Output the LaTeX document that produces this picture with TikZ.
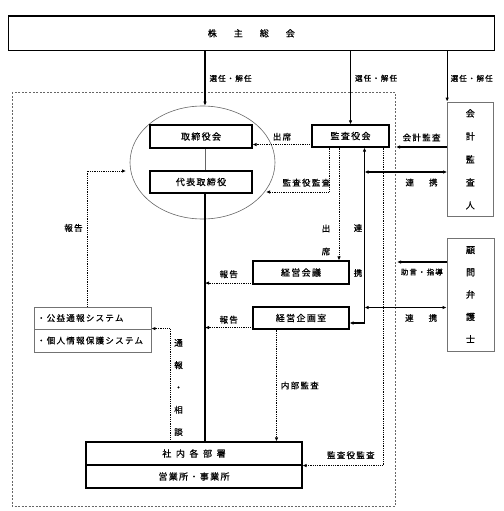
\documentclass[tikz,border=0pt]{standalone}
\usepackage{fontspec}
\newfontfamily\jp{Noto Sans CJK JP}[LetterSpace=15, FakeBold=0.6]
\usetikzlibrary{arrows.meta}
\usetikzlibrary{shapes.geometric}
\tikzset{box/.style={draw, line width=1.1pt, inner sep=0pt, font=\jp\fontsize{9}{9}\selectfont}}
\tikzset{gbox/.style={draw=black!55, line width=0.8pt, inner sep=0pt, font=\jp\fontsize{8.5}{8.5}\selectfont}}
\tikzset{l/.style={inner sep=0pt, font=\jp\fontsize{8.5}{8.5}\selectfont}}
\tikzset{m/.style={inner sep=0pt, font=\jp\fontsize{7.5}{7.5}\selectfont}}
\tikzset{dline/.style={line width=0.8pt, dash pattern=on 0.8pt off 1pt}}
\tikzset{sline/.style={line width=1.1pt}}

\begin{document}
\begin{tikzpicture}[x=1pt, y=-1pt, >={Latex[length=4pt,width=3.5pt]}]
  \useasboundingbox (0,0) rectangle (503,511);
  \draw[black!60, line width=0.6pt, dash pattern=on 2pt off 1.5pt] (12,92) rectangle (395,506);

  \coordinate (ax) at (205,0);
  \coordinate (dx) at (329,0);
  \coordinate (sx) at (339,0);
  \coordinate (rx) at (364.5,0);
  \coordinate (vx) at (383,0);
  \coordinate (nx) at (276.5,0);
  \coordinate (hx) at (87,0);
  \coordinate (tx) at (170,0);

  \node[ellipse, draw=black!60, line width=0.6pt, minimum width=145pt, minimum height=113pt, inner sep=0pt] (circ) at (202.5,162.5) {};

  \node[box, minimum width=486pt, minimum height=34.5pt] (soukai) at (251.3,33.3)
    {株\hspace{17pt}主\hspace{17pt}総\hspace{17pt}会};
  \node[box, minimum width=102pt, minimum height=23pt] (torishimari) at (201,136.5) {取締役会};
  \node[box, minimum width=102pt, minimum height=22pt] (daihyo) at (201,182) {代表取締役};
  \node[box, minimum width=77pt, minimum height=22pt] (kansa) at (350.5,136) {監査役会};
  \node[box, minimum width=96pt, minimum height=23pt] (keiei) at (301,272.5) {経営会議};
  \node[box, minimum width=96pt, minimum height=22pt] (kikaku) at (301,318) {経営企画室};
  \node[box, minimum width=216pt, minimum height=23pt] (shanai) at (194,453.5)
    {社\hspace{4.6pt}内\hspace{4.6pt}各\hspace{4.6pt}部\hspace{4.6pt}署};
  \node[box, minimum width=216pt, minimum height=23pt] (eigyo) at (194,476.5) {営業所・事業所};
  \node[gbox, minimum width=117pt, minimum height=22pt, text width=111pt, align=left] (koueki) at (92.5,318) {・公益通報システム};
  \node[gbox, minimum width=117pt, minimum height=23pt, text width=111pt, align=left] (kojin) at (92.5,340.5) {・個人情報保護システム};
  \node[gbox, minimum width=45.5pt, minimum height=114.5pt, align=center, font=\jp\fontsize{9}{23}\selectfont] (kaikei) at (470.3,159.3)
    {会\\計\\監\\査\\人};
  \node[gbox, minimum width=47pt, minimum height=113pt, align=center, font=\jp\fontsize{9}{22.3}\selectfont] (komon) at (470.5,294.5)
    {顧\\問\\弁\\護\\士};

  % 選任・解任
  \draw[sline,->] (soukai.south -| ax) -- (circ.north -| ax) node[m, midway, right=4pt] {選任・解任};
  \draw[sline,->] (soukai.south -| kansa) -- (kansa.north) node[m, pos=0.37, right=4pt] {選任・解任};
  \draw[sline,->] (soukai.south -| kaikei.north west) -- (kaikei.north west) node[m, pos=0.54, right=3pt] {選任・解任};

  \draw[black!60, line width=0.6pt] (torishimari.south -| ax) -- (daihyo.north -| ax);
  \draw[sline] (daihyo.south -| ax) -- (shanai.north -| ax);

  % 監査役会から
  \coordinate (k0) at ([yshift=3pt]kansa.south west);
  \draw[dline,->] (k0) -- (k0 -| torishimari.east) node[l, midway, above=3.5pt] {出席};
  \coordinate (c1) at (266,192);
  \draw[dline,->] (kansa.south -| dx) |- (c1) node[l, pos=0.68, above=5pt] {監査役監査};
  \draw[dline,->] (kansa.south -| sx) -- (keiei.north -| sx);
  \node[l, align=center, font=\jp\fontsize{8.5}{23}\selectfont] (shusseki) at (326,240) {出\\席};
  \draw[sline,<->] ([yshift=-5pt]kikaku.east) -| (kansa.south -| rx);
  \node[l, align=center, font=\jp\fontsize{8.5}{45}\selectfont] (renkei) at (358,250.5) {連\\携};
  \draw[dline,->] (kansa.south -| vx) |- (shanai.south east) node[l, pos=0.70, above=6pt] {監査役監査};

  % 会計監査人・顧問弁護士
  \coordinate (f1) at (396,147);
  \draw[sline,->] (kaikei.west |- f1) -- (f1) node[l, midway, above=5pt] {会計監査};
  \coordinate (r1) at (364.5,172);
  \draw[sline,<->] (r1) -- (kaikei.west |- r1) node[l, pos=0.69, below=6pt] {連\hspace{15pt}携};
  \coordinate (f2) at (397,262);
  \draw[sline,->] (komon.west |- f2) -- (f2) node[m, midway, below=6pt] {助言・指導};
  \coordinate (r2) at (364.5,307.5);
  \draw[sline,<->] (r2) -- (komon.west |- r2) node[l, pos=0.69, below=6pt] {連\hspace{15pt}携};

  % 報告
  \coordinate (k2) at ([yshift=1.5pt]keiei.south west);
  \draw[dline,->] (k2) -- (k2 -| ax) node[l, midway, above=4.5pt] {報告};
  \coordinate (k3) at ([yshift=2pt]kikaku.south west);
  \draw[dline,->] (k3) -- (k3 -| ax) node[l, midway, above=3.5pt] {報告};
  \draw[dline,->] (kikaku.south -| nx) -- (shanai.north -| nx) node[l, midway, right=4pt] {内部監査};

  \coordinate (c2) at (126,171);
  \draw[dline,->] (koueki.north -| hx) |- (c2) node[l, pos=0.29, left=4pt] {報告};
  \draw[dline,->] (shanai.north -| tx) |- (kojin.north east);
  \node[l, align=center, font=\jp\fontsize{8.5}{22.3}\selectfont] (tsuho) at (178.5,387.5) {通\\報\\・\\相\\談};
\end{tikzpicture}
\end{document}
